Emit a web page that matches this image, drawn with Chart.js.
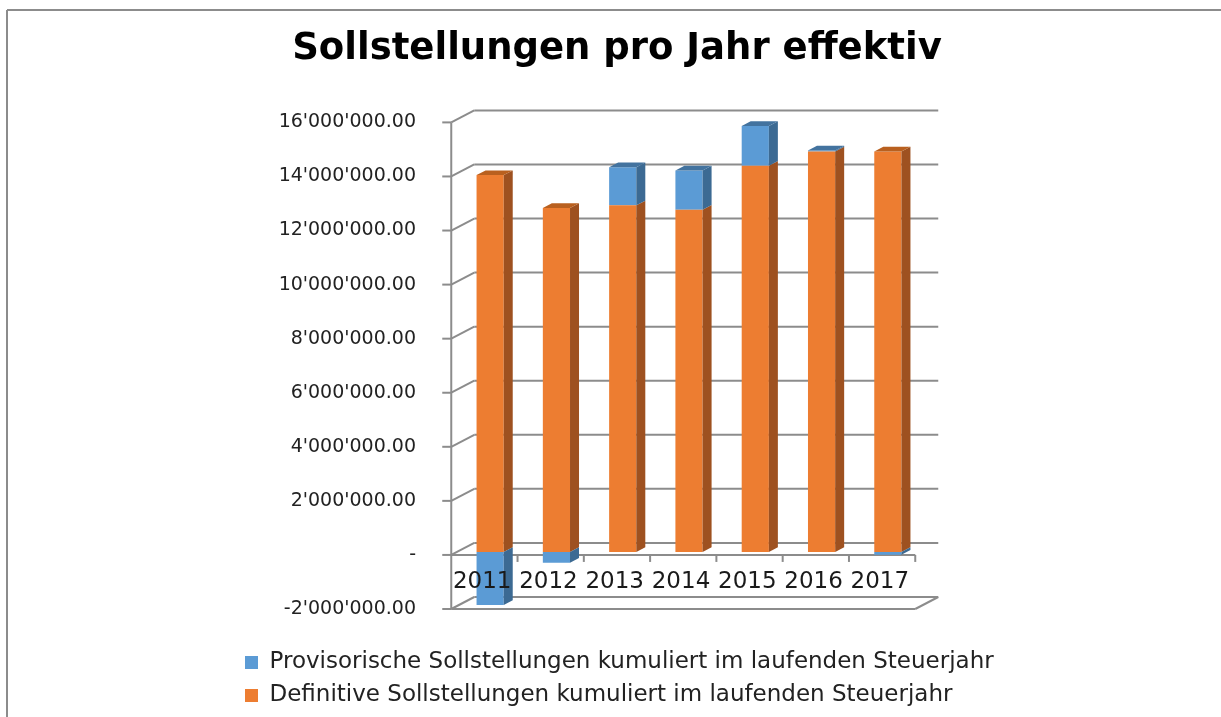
<!DOCTYPE html>
<html>
<head>
<meta charset="utf-8">
<title>Sollstellungen pro Jahr effektiv</title>
<script src="https://cdn.jsdelivr.net/npm/chart.js@4.4.0/dist/chart.umd.min.js"></script>
<style>
  html, body { margin: 0; padding: 0; background: #fff; }
  #wrap { width: 1221px; height: 717px; }
</style>
</head>
<body>
<div id="wrap"><canvas id="grafico" width="1221" height="717"></canvas></div>
<script>
// Daten
const jahre = ["2011", "2012", "2013", "2014", "2015", "2016", "2017"];
const provisorisch = [-1960000, -400000, 1410000, 1450000, 1470000, 40000, -100000];
const definitiv = [13940000, 12720000, 12820000, 12660000, 14290000, 14810000, 14810000];
const yMin = -2000000;
const yMax = 16000000;
const yStep = 2000000;

const labelProvisorisch = "Provisorische Sollstellungen kumuliert im laufenden Steuerjahr";
const labelDefinitiv = "Definitive Sollstellungen kumuliert im laufenden Steuerjahr";

// Farben
const ORANGE = "#ED7D31", ORANGE_SEITE = "#9E5120", ORANGE_DECKEL = "#B9601F";
const BLAU = "#5B9BD5", BLAU_SEITE = "#3C6A93", BLAU_DECKEL = "#43739F";
const GRAU = "#8c8c8c";

// 3D Tiefe (vorne -> hinten) und Lage der Balkenebene
const TX = 23, TY = -12;
const ANTEIL = 0.25;
const BX = 9, BY = -4.7;

function formatFranken(v) {
  if (v === 0) return "-";
  const neg = v < 0;
  const [ganz, dez] = Math.abs(v).toFixed(2).split(".");
  const mitTrenner = ganz.replace(/\B(?=(\d{3})+(?!\d))/g, "'");
  return (neg ? "-" : "") + mitTrenner + "." + dez;
}

function linie(ctx, x1, y1, x2, y2) {
  ctx.beginPath();
  ctx.moveTo(x1, y1);
  ctx.lineTo(x2, y2);
  ctx.stroke();
}

function flaeche(ctx, pts) {
  ctx.beginPath();
  ctx.moveTo(pts[0][0], pts[0][1]);
  for (let i = 1; i < pts.length; i++) ctx.lineTo(pts[i][0], pts[i][1]);
  ctx.closePath();
  ctx.fill();
}

const tiefePlugin = {
  id: "tiefe",
  beforeDraw(chart) {
    const ctx = chart.ctx;
    ctx.save();
    ctx.strokeStyle = GRAU;
    ctx.lineWidth = 2;
    linie(ctx, 7, 10, chart.width, 10);
    linie(ctx, 7, 10, 7, chart.height);
    ctx.restore();
  },
  beforeDatasetsDraw(chart) {
    const ctx = chart.ctx;
    const xs = chart.scales.x, ys = chart.scales.y;
    const fx = -ANTEIL * TX, fy = -ANTEIL * TY;        // Balkenebene -> vorne
    const hx = (1 - ANTEIL) * TX, hy = (1 - ANTEIL) * TY; // Balkenebene -> hinten
    ctx.save();
    ctx.strokeStyle = GRAU;
    ctx.lineWidth = 2;
    ys.ticks.forEach(t => {
      const y = ys.getPixelForValue(t.value);
      linie(ctx, xs.left + hx, y + hy, xs.right + hx, y + hy);
      linie(ctx, xs.left + fx, y + fy, xs.left + hx, y + hy);
      linie(ctx, xs.left + fx - 9, y + fy, xs.left + fx, y + fy);
    });
    // vordere Achse
    linie(ctx, xs.left + fx, ys.top + fy, xs.left + fx, ys.bottom + fy);
    // Boden
    linie(ctx, xs.left + fx, ys.bottom + fy, xs.right + fx, ys.bottom + fy);
    linie(ctx, xs.right + fx, ys.bottom + fy, xs.right + hx, ys.bottom + hy);
    // Kategorienachse bei 0
    const y0 = ys.getPixelForValue(0) + fy;
    linie(ctx, xs.left + fx, y0, xs.right + fx, y0);
    const abstand = (xs.right - xs.left) / jahre.length;
    for (let i = 1; i <= jahre.length; i++) {
      const bx = xs.left + i * abstand + fx;
      linie(ctx, bx, y0, bx, y0 + 7);
    }
    ctx.restore();
  },
  afterDatasetsDraw(chart) {
    const ctx = chart.ctx;
    const xs = chart.scales.x, ys = chart.scales.y;
    const seiten = [ORANGE_SEITE, BLAU_SEITE];
    const deckel = [ORANGE_DECKEL, BLAU_DECKEL];
    ctx.save();
    chart.data.datasets.forEach((ds, di) => {
      const meta = chart.getDatasetMeta(di);
      meta.data.forEach((bar, i) => {
        const {x, y, base, width} = bar.getProps(["x", "y", "base", "width"], true);
        const l = x - width / 2, r = x + width / 2;
        const oben = Math.min(y, base), unten = Math.max(y, base);
        ctx.fillStyle = seiten[di];
        flaeche(ctx, [[r, oben], [r + BX, oben + BY], [r + BX, unten + BY], [r, unten]]);
        const wert = ds.data[i];
        const zuoberst = wert > 0 && chart.data.datasets.every((d2, dj) => dj <= di || !(d2.data[i] > 0));
        if (zuoberst) {
          ctx.fillStyle = deckel[di];
          flaeche(ctx, [[l, oben], [l + BX, oben + BY], [r + BX, oben + BY], [r, oben]]);
        }
      });
    });
    // Jahreszahlen
    ctx.fillStyle = "#1a1a1a";
    ctx.font = '23px "DejaVu Sans"';
    ctx.textAlign = "center";
    ctx.textBaseline = "middle";
    const y0 = ys.getPixelForValue(0);
    jahre.forEach((j, i) => {
      ctx.fillText(j, xs.getPixelForValue(i) - 8, y0 + 30);
    });
    ctx.restore();
  }
};

const ctx = document.getElementById("grafico").getContext("2d");
new Chart(ctx, {
  type: "bar",
  data: {
    labels: jahre,
    datasets: [
      {
        label: labelDefinitiv,
        data: definitiv,
        backgroundColor: ORANGE,
        borderWidth: 0
      },
      {
        label: labelProvisorisch,
        data: provisorisch,
        backgroundColor: BLAU,
        borderWidth: 0
      }
    ]
  },
  options: {
    responsive: false,
    animation: false,
    categoryPercentage: 1,
    barPercentage: 0.41,
    layout: { padding: { left: 235, right: 222, top: 0, bottom: 0 } },
    plugins: {
      title: {
        display: true,
        text: "Sollstellungen pro Jahr effektiv",
        color: "#000",
        font: { family: "DejaVu Sans", size: 37, weight: "bold" },
        padding: { top: 27, bottom: 48 }
      },
      legend: {
        position: "bottom",
        align: "start",
        reverse: true,
        labels: {
          color: "#222",
          font: { family: "DejaVu Sans", size: 23 },
          boxWidth: 13,
          boxHeight: 13,
          padding: 10
        }
      },
      tooltip: { enabled: false }
    },
    scales: {
      x: {
        stacked: true,
        grid: { display: false, drawTicks: false },
        border: { display: false },
        ticks: { display: false },
        afterFit(s) { s.height = 35; }
      },
      y: {
        stacked: true,
        min: yMin,
        max: yMax,
        grid: { display: false, drawTicks: false },
        border: { display: false },
        ticks: {
          stepSize: yStep,
          color: "#222",
          font: { family: "DejaVu Sans", size: 19 },
          padding: 41,
          labelOffset: 3,
          callback: (v) => formatFranken(v)
        },
        afterFit(s) { s.width = 222; }
      },
      y2: {
        position: "right",
        display: true,
        grid: { display: false, drawTicks: false },
        border: { display: false },
        ticks: { display: false },
        afterFit(s) { s.width = 78; }
      }
    }
  },
  plugins: [tiefePlugin]
});
</script>
</body>
</html>
